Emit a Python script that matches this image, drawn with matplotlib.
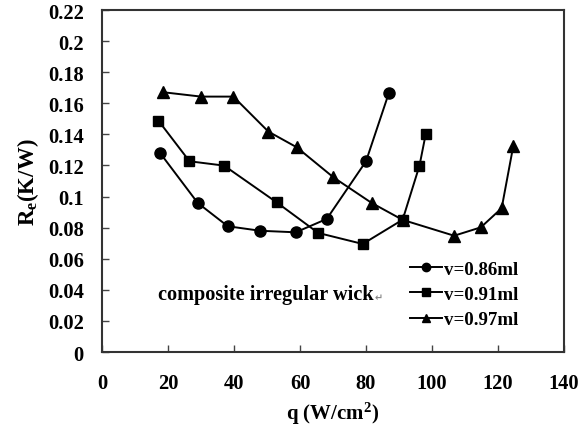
import matplotlib
matplotlib.use("Agg")
import matplotlib.pyplot as plt
import numpy as np

# heat flux q (W/cm^2) and thermal resistance Re (K/W) for each fill volume
q_086 = [17.6, 29.0, 38.1, 47.9, 58.7, 68.1, 80.0, 86.9]
re_086 = [0.128, 0.0959, 0.0809, 0.078, 0.077, 0.0856, 0.1227, 0.1665]

q_091 = [17.1, 26.5, 37.0, 52.9, 65.5, 79.0, 91.1, 96.2, 98.1]
re_091 = [0.1488, 0.1227, 0.1199, 0.0963, 0.0766, 0.0695, 0.0851, 0.1199, 0.1403]

q_097 = [18.6, 30.0, 39.8, 50.4, 59.0, 70.1, 81.7, 91.1, 106.7, 114.8, 121.1, 124.6]
re_097 = [0.1671, 0.1643, 0.1643, 0.1418, 0.1317, 0.1124, 0.0959, 0.085,
          0.0748, 0.0802, 0.0925, 0.1323]

labels = ["v=0.86ml", "v=0.91ml", "v=0.97ml"]
x_ticks = np.arange(0, 141, 20)
y_ticks = np.arange(0, 0.221, 0.02)

plt.rcParams['font.family'] = ['Liberation Serif', 'DejaVu Sans']
plt.rcParams['font.weight'] = 'bold'
plt.rcParams['mathtext.fontset'] = 'custom'
plt.rcParams['mathtext.rm'] = 'Liberation Serif:bold'
plt.rcParams['mathtext.bf'] = 'Liberation Serif:bold'
plt.rcParams['mathtext.it'] = 'Liberation Serif:bold'

fig = plt.figure(figsize=(5.84, 4.27), dpi=100)
ax = fig.add_axes([0.1747, 0.1733, 0.7911, 0.8009])

line_kw = dict(color='black', lw=1.4)
ax.plot(q_086, re_086, marker='o', ms=8, label=labels[0], zorder=4, **line_kw)
ax.plot(q_091, re_091, marker='s', ms=7.2, label=labels[1], zorder=4, **line_kw)
ax.plot(q_097, re_097, marker='^', ms=8, label=labels[2], zorder=3, **line_kw)

ax.set_xlim(0, 140)
ax.set_ylim(0, 0.22)
ax.set_xticks(x_ticks)
ax.set_yticks(y_ticks)
ax.set_yticklabels(['%g' % round(v, 2) for v in y_ticks])
ax.tick_params(axis='both', direction='in', length=5, width=1.0, labelsize=14.8,
               color='#444444')
ax.tick_params(axis='x', pad=15)
ax.tick_params(axis='y', pad=13)
for s in ax.spines.values():
    s.set_linewidth(1.5)
    s.set_color('#333333')

ax.set_xlabel('q (W/cm$^{2}$)', fontsize=15, fontweight='bold', labelpad=5)
ax.set_ylabel('R$_{e}$(K/W)', fontsize=16.5, fontweight='bold', labelpad=5)

ax.text(17, 0.0373, 'composite irregular wick', fontsize=14.6, fontweight='bold',
        va='center', ha='left')
ax.text(82.6, 0.0355, '\u21b5', fontsize=7, color='#888888', va='center',
        ha='left', family=['DejaVu Sans'])

leg = ax.legend(loc='lower right', bbox_to_anchor=(0.937, 0.02), frameon=False,
                fontsize=13.6, handlelength=1.7, handletextpad=0.1,
                labelspacing=0.42, markerscale=0.75)

fig.savefig('out.png', dpi=100)
